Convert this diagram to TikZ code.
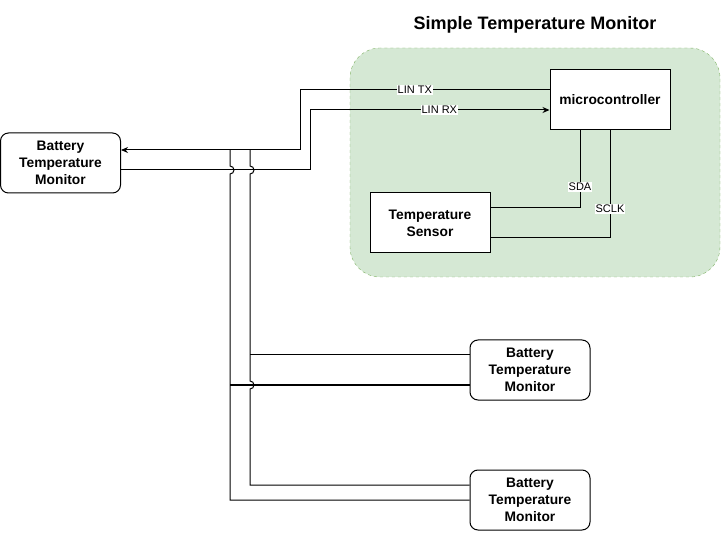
\documentclass[tikz,border=0pt]{standalone}
\usepackage{fontspec}
\setmainfont{Liberation Sans}
\usetikzlibrary{calc,positioning,arrows.meta}

\definecolor{groupfill}{HTML}{D5E8D4}
\definecolor{groupline}{HTML}{82B366}

\tikzset{
  block/.style={draw, line width=1pt, fill=white, minimum width=120pt, minimum height=60pt, inner sep=0pt,
    align=center, font=\fontsize{13.8}{17}\selectfont\bfseries},
  monitor/.style={block, rounded corners=8pt},
  wire/.style={draw, line width=1pt},
  sig/.style={fill=white, inner sep=1pt, font=\fontsize{11}{13}\selectfont},
  tip/.style={-{Stealth[length=7pt,width=6pt]}}
}

\begin{document}
\begin{tikzpicture}[x=1pt,y=-1pt]
		\useasboundingbox (0,0) rectangle (721,540);
		% group
		\draw[groupline, fill=groupfill, dashed, rounded corners=30pt] (350,48) rectangle (720,277);
		\node[font=\fontsize{18}{21}\selectfont\bfseries] (title) at (535,25) {Simple Temperature Monitor};
		\node[block] (mcu) at (610,100) {microcontroller};
		\node[block] (sensor) at (430,223) {Temperature\\Sensor};
		\node[monitor] (btmA) at (60.5,163) {Battery\\Temperature\\Monitor};
		\node[monitor] (btmB) at (530,370) {Battery\\Temperature\\Monitor};
		\node[monitor] (btmC) at (530,500) {Battery\\Temperature\\Monitor};
		% bus
		\coordinate (busA) at (230,150);
		\coordinate (busB) at (250,150);
		\coordinate (tapB) at (250,355);
		\coordinate (tapA) at (230,385);
		% LIN
		\draw[wire,tip] ($(mcu.west)+(0,-10)$) -- node[sig,pos=0.54]{LIN TX} (300,90) -- (300,150) -- (btmA.east |- busA);
		\draw[wire,tip] ($(btmA.east)+(0,7)$) -- (310,170) -- (310,110) -- node[sig,pos=0.54]{LIN RX} ($(mcu.west)+(0,10)$);
		% I2C
		\draw[wire] ($(sensor.east)+(0,-15)$) -- (580,208) -- node[sig,pos=0.27]{SDA} ($(mcu.south)+(-30,0)$);
		\draw[wire] ($(sensor.east)+(0,15)$) -- (610,238) -- node[sig,pos=0.27]{SCLK} (mcu.south);
		% bus lines
		\draw[wire] (busA) -- (230,166) arc[start angle=-90,end angle=90,radius=4] -- (230,500) -- (btmC.west);
		\draw[wire] (busB) -- (250,166) arc[start angle=-90,end angle=90,radius=4] -- (250,381)
			arc[start angle=-90,end angle=90,radius=4] -- (250,485) -- ($(btmC.west)+(0,-15)$);
		\draw[wire] (tapB) -- ($(btmB.west)+(0,-15)$);
		\draw[wire] (tapA) -- ($(btmB.west)+(0,15)$);
	\end{tikzpicture}
\end{document}
